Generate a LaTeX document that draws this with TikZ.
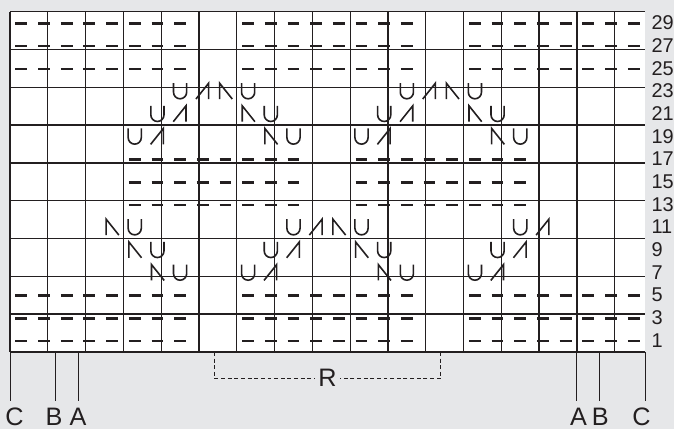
\documentclass[tikz,border=0pt]{standalone}
\usepackage{fontspec}
\setmainfont{Liberation Sans}
\usepackage{xcolor}
\usepackage{tikz}
\usetikzlibrary{positioning}
\definecolor{chartbg}{RGB}{230,231,233}
\definecolor{ink}{RGB}{35,31,32}

\begin{document}
\begin{tikzpicture}[
  x=0.6cm, y=0.6cm,
  gridline/.style={draw=ink, line width=1pt},
  purl/.style={draw=ink, line width=1.9pt},
  yarnover/.style={draw=ink, line width=1.2pt},
  decr/.style={draw=ink, line width=1.2pt, line join=miter},
  guide/.style={draw=ink, line width=0.7pt},
  repline/.style={draw=ink, line width=0.7pt, dash pattern=on 3pt off 2pt},
  rownum/.style={font=\fontsize{15}{17}\selectfont, text=ink,
    anchor=west, inner sep=0pt},
  edgelbl/.style={font=\fontsize{19}{21}\selectfont, text=ink,
    anchor=north, inner xsep=0pt, inner ysep=5pt},
  replbl/.style={font=\fontsize{19}{21}\selectfont, text=ink,
    fill=chartbg, inner xsep=2pt, inner ysep=0pt}
]

% background and chart grid
\fill[chartbg] (-0.441,-3.408) rectangle (29.279,15.516);
\useasboundingbox (-0.441,-3.408) rectangle (29.279,15.516);
\fill[white] (0,0) rectangle (28,15);
\draw[gridline] (0,0) grid (28,15);

% row numbers (right side)
\foreach \n [count=\i from 0] in {1,3,...,29}
  \node[rownum] (row\n) at (28.28,\i+0.5) {\n};

% purl bands
\foreach \r in {0,1,2,12,13,14}
  \foreach \b in {0,10,20}
    \foreach \k in {0,...,7}
      \draw[purl] (\b+\k+0.24,\r+0.48) -- (\b+\k+0.76,\r+0.48);
\foreach \r in {6,7,8}
  \foreach \b in {5,15}
    \foreach \k in {0,...,7}
      \draw[purl] (\b+\k+0.24,\r+0.48) -- (\b+\k+0.76,\r+0.48);

% yarn overs
\foreach \c/\r in {7/11,10/11,17/11,20/11, 6/10,11/10,16/10,21/10,
                   5/9,12/9,15/9,22/9, 5/5,12/5,15/5,22/5,
                   6/4,11/4,16/4,21/4, 7/3,10/3,17/3,20/3}
  \draw[yarnover] (\c+0.21,\r+0.85) -- (\c+0.21,\r+0.45)
    arc[start angle=180, end angle=360, radius=0.29] -- (\c+0.79,\r+0.85);

% right-leaning decreases
\foreach \c/\r in {8/11,18/11, 7/10,17/10, 6/9,16/9,
                   13/5,23/5, 12/4,22/4, 11/3,21/3}
  \draw[decr] (\c+0.2,\r+0.15) -- (\c+0.76,\r+0.85) -- (\c+0.76,\r+0.15);

% left-leaning decreases
\foreach \c/\r in {9/11,19/11, 10/10,20/10, 11/9,21/9,
                   4/5,14/5, 5/4,15/4, 6/3,16/3}
  \draw[decr] (\c+0.24,\r+0.15) -- (\c+0.24,\r+0.85) -- (\c+0.8,\r+0.15);

% edge stitches A, B, C
\foreach \x/\l/\dx/\nm in {0/C/0.2/cleft, 2/B/-0.06/bleft, 3/A/0/aleft,
                           25/A/0.07/aright, 26/B/0.03/bright, 28/C/-0.15/cright}
{
  \coordinate (\nm-top) at (\x,0);
  \node[edgelbl] (\nm) at (\x+\dx,-2.16) {\l};
  \draw[guide] (\nm-top) -- (\nm-top |- \nm.north);
}

% pattern repeat
\coordinate (repL) at (9,0);
\coordinate (repR) at (19,0);
\node[replbl] (rep) at (14,-1.16) {R};
\draw[repline] (repL) -- (repL |- rep) -- (rep.west);
\draw[repline] (repR) -- (repR |- rep) -- (rep.east);

\end{tikzpicture}
\end{document}
